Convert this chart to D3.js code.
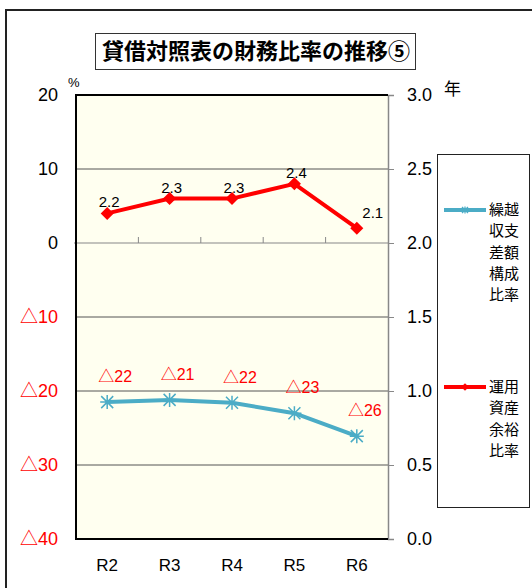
<!DOCTYPE html>
<html lang="ja">
<head>
<meta charset="UTF-8">
<title>貸借対照表の財務比率の推移⑤</title>
<style>
  body { margin: 0; background: #fff; }
  text { font-family: "Liberation Sans", "Noto Sans CJK JP", sans-serif; }
  .jp { font-family: "Noto Sans CJK JP", sans-serif; }
</style>
</head>
<body>
<script src="https://cdn.jsdelivr.net/npm/d3@7/dist/d3.min.js"></script>
<script>
  // データ
  const categories = ['R2', 'R3', 'R4', 'R5', 'R6'];
  const kurikoshi = [-21.5, -21.2, -21.6, -23.0, -26.1];   // 繰越収支差額構成比率 (%)
  const kurikoshiLabels = ['△22', '△21', '△22', '△23', '△26'];
  const unyou = [2.2, 2.3, 2.3, 2.4, 2.1];                 // 運用資産余裕比率 (年)
  const unyouLabels = ['2.2', '2.3', '2.3', '2.4', '2.1'];
  const leftTicks = [20, 10, 0, -10, -20, -30, -40];
  const rightTicks = [0, 0.5, 1.0, 1.5, 2.0, 2.5, 3.0];
  const legendNames = [['繰越', '収支', '差額', '構成', '比率'], ['運用', '資産', '余裕', '比率']];

  const width = 532, height = 588;
  const plot = { left: 76, right: 388, top: 95, bottom: 539 };
  const blue = '#4bacc6', red = '#ff0000';

  const svg = d3.select('body').append('svg')
    .attr('width', width).attr('height', height);

  // 外枠
  svg.append('rect')
    .attr('x', 6).attr('y', 10).attr('width', 600).attr('height', 650)
    .attr('fill', 'none').attr('stroke', '#222').attr('stroke-width', 2);

  // タイトル
  svg.append('rect')
    .attr('x', 95.5).attr('y', 33.5).attr('width', 320).attr('height', 36)
    .attr('fill', '#fff').attr('stroke', '#333').attr('stroke-width', 1);
  svg.append('text').attr('class', 'jp')
    .attr('x', 256).attr('y', 59)
    .attr('text-anchor', 'middle').attr('font-size', 22).attr('font-weight', 'bold')
    .text('貸借対照表の財務比率の推移⑤');

  // 比例尺
  const x = d3.scaleBand().domain(categories).range([plot.left, plot.right]);
  const yL = d3.scaleLinear().domain([-40, 20]).range([plot.bottom, plot.top]);
  const yR = d3.scaleLinear().domain([0, 3]).range([plot.bottom, plot.top]);
  const cx = c => x(c) + x.bandwidth() / 2;

  // 背景
  svg.append('rect')
    .attr('x', plot.left).attr('y', plot.top)
    .attr('width', plot.right - plot.left).attr('height', plot.bottom - plot.top)
    .attr('fill', '#fffff0');

  // グリッド線
  svg.append('g').selectAll('line')
    .data(leftTicks.filter(d => d !== 20 && d !== -40 && d !== 0))
    .join('line')
    .attr('x1', plot.left).attr('x2', plot.right)
    .attr('y1', d => yL(d)).attr('y2', d => yL(d))
    .attr('stroke', '#555').attr('stroke-width', 1);

  // 0 の線と区切り目盛
  svg.append('line')
    .attr('x1', plot.left - 2).attr('x2', plot.right)
    .attr('y1', yL(0)).attr('y2', yL(0))
    .attr('stroke', '#888').attr('stroke-width', 1.2);
  svg.append('g').selectAll('line')
    .data(categories.slice(1))
    .join('line')
    .attr('x1', d => x(d)).attr('x2', d => x(d))
    .attr('y1', yL(0) - 6).attr('y2', yL(0))
    .attr('stroke', '#888');

  // 右軸
  const rightAxis = svg.append('g')
    .attr('transform', `translate(${plot.right},0)`)
    .call(d3.axisRight(yR).tickValues(rightTicks).tickFormat(d3.format('.1f'))
      .tickSize(6).tickPadding(13));
  rightAxis.select('.domain').attr('stroke', '#888').attr('stroke-width', 1.5);
  rightAxis.selectAll('.tick line').attr('stroke', '#888');
  rightAxis.selectAll('.tick text')
    .attr('font-size', 18).attr('fill', '#000')
    .style('font-family', '"Liberation Sans", sans-serif');

  // 左軸
  const leftAxis = svg.append('g')
    .attr('transform', `translate(${plot.left},0)`)
    .call(d3.axisLeft(yL).tickValues(leftTicks)
      .tickFormat(d => d < 0 ? '△' + (-d) : d)
      .tickSize(0).tickPadding(18));
  leftAxis.select('.domain').remove();
  leftAxis.selectAll('.tick text')
    .attr('font-size', 18)
    .attr('fill', d => d < 0 ? red : '#000')
    .style('font-family', '"Liberation Sans", "Noto Sans CJK JP", sans-serif');

  // 枠線（左・上・下）
  svg.append('path')
    .attr('d', `M${plot.right},${plot.top}H${plot.left}V${plot.bottom}H${plot.right}`)
    .attr('fill', 'none').attr('stroke', '#000').attr('stroke-width', 2);

  // x 軸ラベル
  const xAxis = svg.append('g')
    .attr('transform', `translate(0,${plot.bottom})`)
    .call(d3.axisBottom(x).tickSize(0).tickPadding(20));
  xAxis.select('.domain').remove();
  xAxis.selectAll('.tick text')
    .attr('font-size', 17).attr('fill', '#000')
    .style('font-family', '"Liberation Sans", sans-serif');

  // 単位
  svg.append('text').attr('x', 68).attr('y', 87).attr('font-size', 13).text('%');
  svg.append('text').attr('class', 'jp').attr('x', 444).attr('y', 95).attr('font-size', 17).text('年');

  // 繰越収支差額構成比率（左軸）
  const blueLine = d3.line().x((d, i) => cx(categories[i])).y(d => yL(d));
  svg.append('path').datum(kurikoshi)
    .attr('d', blueLine)
    .attr('fill', 'none').attr('stroke', blue).attr('stroke-width', 4);
  const star = 'M-6,-6L6,6M-6,6L6,-6M0,-7L0,7M-7,0L7,0';
  svg.append('g').selectAll('path')
    .data(kurikoshi).join('path')
    .attr('transform', (d, i) => `translate(${cx(categories[i])},${yL(d)})`)
    .attr('d', star).attr('stroke', blue).attr('stroke-width', 1.5).attr('fill', 'none');
  svg.append('g').selectAll('text')
    .data(kurikoshi).join('text')
    .attr('x', (d, i) => cx(categories[i]) + 8)
    .attr('y', d => yL(d) - 20)
    .attr('text-anchor', 'middle').attr('font-size', 16).attr('fill', red)
    .style('font-family', '"Liberation Sans", "Noto Sans CJK JP", sans-serif')
    .text((d, i) => kurikoshiLabels[i]);

  // 運用資産余裕比率（右軸）
  const redLine = d3.line().x((d, i) => cx(categories[i])).y(d => yR(d));
  svg.append('path').datum(unyou)
    .attr('d', redLine)
    .attr('fill', 'none').attr('stroke', red).attr('stroke-width', 4);
  const diamond = d3.symbol().type(d3.symbolSquare).size(85);
  svg.append('g').selectAll('path')
    .data(unyou).join('path')
    .attr('transform', (d, i) => `translate(${cx(categories[i])},${yR(d)}) rotate(45)`)
    .attr('d', diamond).attr('fill', red);
  svg.append('g').selectAll('text')
    .data(unyou).join('text')
    .attr('x', (d, i) => cx(categories[i]) + (i === unyou.length - 1 ? 16 : 2))
    .attr('y', (d, i) => yR(d) - (i === unyou.length - 1 ? 10 : 6))
    .attr('text-anchor', 'middle').attr('font-size', 15).attr('fill', '#000')
    .text((d, i) => unyouLabels[i]);

  // 凡例
  const legend = svg.append('g');
  legend.append('rect')
    .attr('x', 437.5).attr('y', 154.5).attr('width', 92).attr('height', 353)
    .attr('fill', '#fff').attr('stroke', '#222').attr('stroke-width', 1);
  const items = [
    { color: blue, y: 210, marker: 'star' },
    { color: red, y: 387, marker: 'diamond' }
  ];
  items.forEach((it, k) => {
    const g = legend.append('g');
    g.append('line')
      .attr('x1', 444).attr('x2', 486).attr('y1', it.y).attr('y2', it.y)
      .attr('stroke', it.color).attr('stroke-width', 4);
    if (it.marker === 'star') {
      g.append('path').attr('transform', `translate(465,${it.y}) scale(0.5)`)
        .attr('d', star).attr('stroke', it.color).attr('stroke-width', 2.5).attr('fill', 'none');
    } else {
      g.append('path').attr('transform', `translate(465,${it.y}) rotate(45)`)
        .attr('d', d3.symbol().type(d3.symbolSquare).size(30)).attr('fill', it.color);
    }
    g.selectAll('text').data(legendNames[k]).join('text')
      .attr('class', 'jp')
      .attr('x', 489).attr('y', (d, i) => it.y + 5 + i * 21.3)
      .attr('font-size', 15).attr('fill', '#000')
      .text(d => d);
  });
</script>
</body>
</html>
